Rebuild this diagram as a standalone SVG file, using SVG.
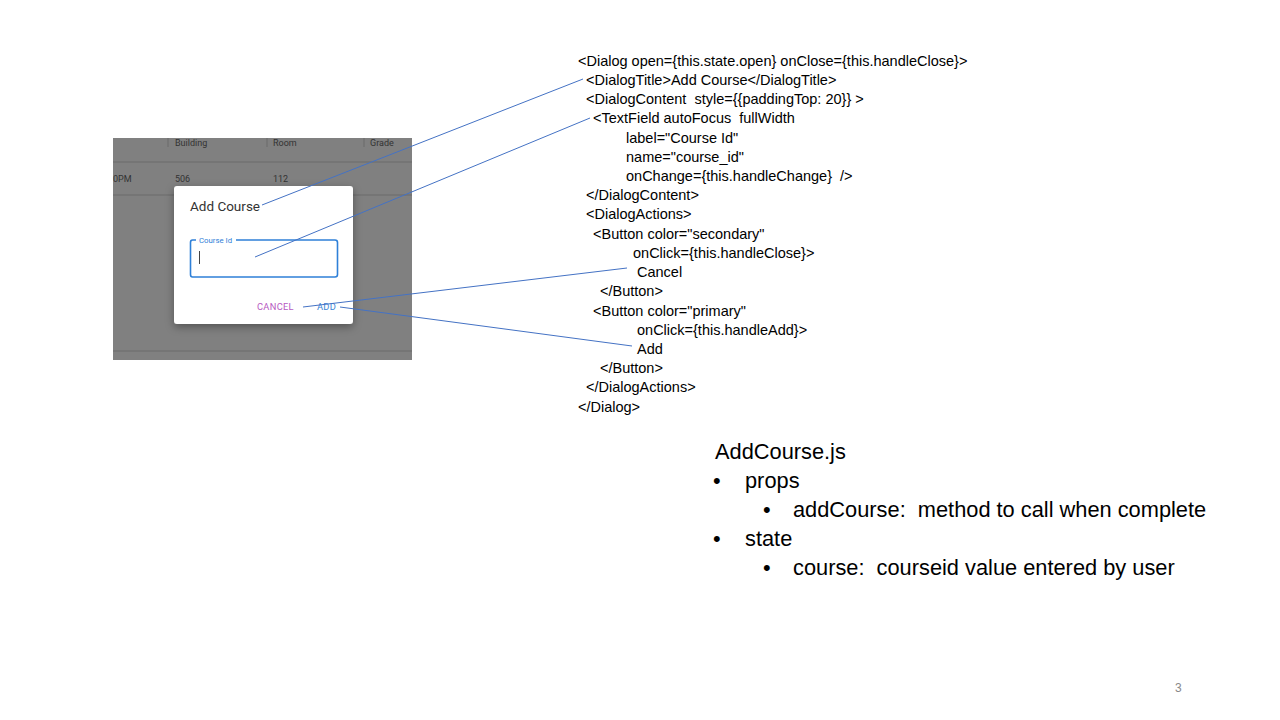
<svg xmlns="http://www.w3.org/2000/svg" width="1280" height="720" viewBox="0 0 1280 720">
<defs>
<style>
.code{font-family:"Liberation Sans",Arial,sans-serif;font-size:14.5px;fill:#000;white-space:pre}
.ui{font-family:Roboto,"Liberation Sans",Arial,sans-serif}
.hdr{font-size:9px;fill:#333}
.conn{stroke:#4472c4;stroke-width:1;fill:none}
.big{font-family:"Liberation Sans",Arial,sans-serif;font-size:21.8px;fill:#000;white-space:pre}
.sep{stroke:#6a6a6a;stroke-width:1}
</style>
<filter id="sh" x="-20%" y="-20%" width="140%" height="150%">
<feDropShadow dx="0" dy="3" stdDeviation="4" flood-color="#000" flood-opacity="0.35"/>
</filter>
</defs>
<rect width="1280" height="720" fill="#fff"/>
<g id="screenshot">
<rect x="113" y="138" width="299" height="222" fill="#808080"/>
<line class="sep" x1="168" y1="138" x2="168" y2="147"/>
<line class="sep" x1="267" y1="138" x2="267" y2="147"/>
<line class="sep" x1="364" y1="138" x2="364" y2="147"/>
<line class="sep" x1="113" y1="162" x2="412" y2="162"/>
<line class="sep" x1="113" y1="195" x2="412" y2="195"/>
<line class="sep" x1="113" y1="351" x2="412" y2="351"/>
<text class="ui hdr" x="175" y="146">Building</text>
<text class="ui hdr" x="273" y="146">Room</text>
<text class="ui hdr" x="370" y="146">Grade</text>
<text class="ui hdr" x="113" y="182">0PM</text>
<text class="ui hdr" x="175" y="182">506</text>
<text class="ui hdr" x="273" y="182">112</text>
</g>
<g id="dialog">
<rect x="174" y="186" width="179" height="138" rx="3" fill="#fff" filter="url(#sh)"/>
<text class="ui" x="190" y="210.5" font-size="13.5" fill="#333">Add Course</text>
<path d="M196 240 H192.5 Q190.5 240 190.5 242.5 V274.5 Q190.5 277 192.5 277 H335 Q337.5 277 337.5 274.5 V242.5 Q337.5 240 335 240 H236" fill="none" stroke="#2f80d8" stroke-width="1.6"/>
<text class="ui" x="199" y="243" font-size="7.8" fill="#2f80d8">Course Id</text>
<line x1="199.5" y1="251" x2="199.5" y2="264" stroke="#444" stroke-width="1"/>
<text class="ui" x="257" y="310" font-size="9.3" fill="#b75ac2" letter-spacing="0.3">CANCEL</text>
<text class="ui" x="317" y="310" font-size="9.3" fill="#3d86d6" letter-spacing="0.3">ADD</text>
</g>
<g id="code">
<text class="code" x="578" y="66">&lt;Dialog open={this.state.open} onClose={this.handleClose}&gt;</text>
<text class="code" x="586" y="85">&lt;DialogTitle&gt;Add Course&lt;/DialogTitle&gt;</text>
<text class="code" x="586" y="104">&lt;DialogContent  style={{paddingTop: 20}} &gt;</text>
<text class="code" x="593" y="123">&lt;TextField autoFocus  fullWidth</text>
<text class="code" x="626" y="143">label="Course Id"</text>
<text class="code" x="626" y="162">name="course_id"</text>
<text class="code" x="626" y="181">onChange={this.handleChange}  /&gt;</text>
<text class="code" x="586" y="200">&lt;/DialogContent&gt;</text>
<text class="code" x="586" y="219">&lt;DialogActions&gt;</text>
<text class="code" x="593" y="239">&lt;Button color="secondary"</text>
<text class="code" x="633" y="258">onClick={this.handleClose}&gt;</text>
<text class="code" x="637" y="277">Cancel</text>
<text class="code" x="600" y="296">&lt;/Button&gt;</text>
<text class="code" x="593" y="316">&lt;Button color="primary"</text>
<text class="code" x="637" y="335">onClick={this.handleAdd}&gt;</text>
<text class="code" x="637" y="354">Add</text>
<text class="code" x="600" y="373">&lt;/Button&gt;</text>
<text class="code" x="586" y="392">&lt;/DialogActions&gt;</text>
<text class="code" x="578" y="412">&lt;/Dialog&gt;</text>
</g>
<g id="connectors">
<line class="conn" x1="262" y1="205" x2="583" y2="79"/>
<line class="conn" x1="255" y1="257" x2="590" y2="118"/>
<line class="conn" x1="303" y1="307" x2="627" y2="268"/>
<line class="conn" x1="340" y1="307" x2="632" y2="346"/>
</g>
<g id="notes">
<text class="big" x="715" y="459">AddCourse.js</text>
<text class="big" x="713" y="488">•</text>
<text class="big" x="745" y="488">props</text>
<text class="big" x="763" y="517">•</text>
<text class="big" x="793" y="517">addCourse:  method to call when complete</text>
<text class="big" x="713" y="546">•</text>
<text class="big" x="745" y="546">state</text>
<text class="big" x="763" y="575">•</text>
<text class="big" x="793" y="575">course:  courseid value entered by user</text>
</g>
<text x="1175" y="692" font-family="'Liberation Sans',Arial,sans-serif" font-size="12" fill="#898989">3</text>
</svg>
